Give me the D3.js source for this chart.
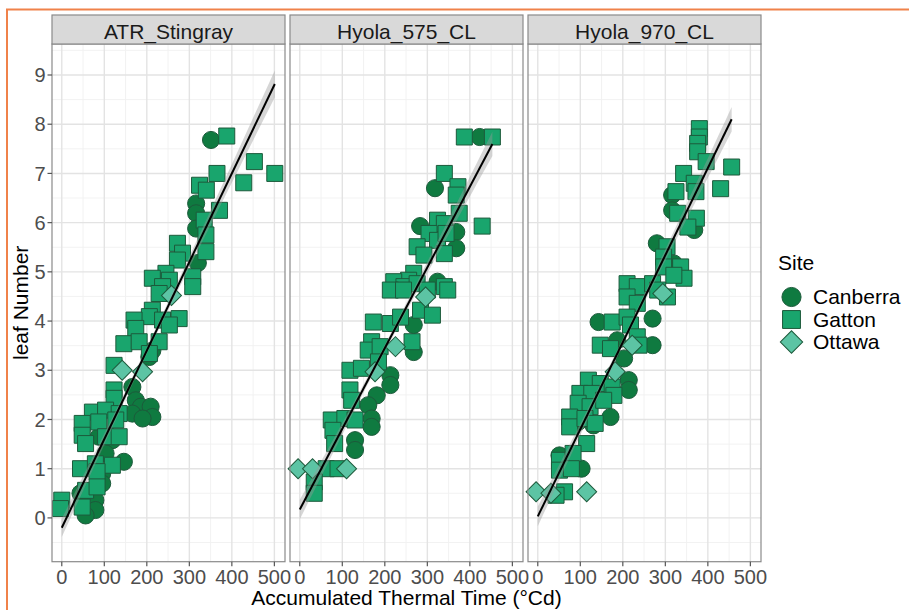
<!DOCTYPE html>
<html>
<head>
<meta charset="utf-8">
<script src="https://cdn.jsdelivr.net/npm/d3@7"></script>
<style>
  body { margin: 0; background: #fff; }
  text { font-family: "Liberation Sans", Arial, sans-serif; }
</style>
</head>
<body>
<div id="chart"></div>
<script>
const cultivars = ["ATR_Stingray", "Hyola_575_CL", "Hyola_970_CL"];
const sites = ["Canberra", "Gatton", "Ottawa"];
const xTicks = [0, 100, 200, 300, 400, 500];
const yTicks = [0, 1, 2, 3, 4, 5, 6, 7, 8, 9];

// [thermal time, leaf number]
const stingrayCanberra = [[351,7.68],[316,6.39],[316,6.19],[316,5.88],[320,5.18],[213,3.4],[206,3.27],[166,2.66],[174,2.39],[186,2.26],[209,2.26],[213,2.05],[166,2.12],[190,2.02],[87,1.65],[119,1.58],[103,1.31],[146,1.14],[95,0.9],[95,0.7],[44,0.5],[48,0.29],[79,0.36],[79,0.16],[56,0.05]];
const stingrayGatton = [[388,7.76],[453,7.24],[501,7.0],[428,6.81],[365,7.0],[324,6.76],[340,6.66],[371,6.25],[335,6.05],[339,5.75],[339,5.41],[272,5.58],[284,5.38],[272,5.24],[308,4.9],[308,4.7],[245,4.97],[213,4.87],[253,4.83],[237,4.7],[229,4.56],[213,4.22],[206,4.09],[237,4.02],[276,4.05],[253,3.92],[170,4.02],[174,3.85],[146,3.54],[182,3.58],[229,3.58],[206,3.34],[123,3.1],[123,2.6],[123,2.43],[72,2.15],[103,2.19],[135,2.12],[48,1.92],[87,1.95],[127,1.99],[48,1.68],[56,1.51],[103,1.65],[135,1.65],[44,1.0],[79,1.1],[119,1.07],[83,0.94],[56,0.56],[83,0.63],[0,0.36],[-3,0.19],[48,0.22]];
const stingrayOttawa = [[142,3.0],[190,2.97],[258,4.52]];

const h575Canberra = [[423,7.74],[318,6.7],[283,5.93],[368,5.81],[368,5.48],[324,4.8],[268,3.92],[268,3.37],[213,2.9],[213,2.7],[181,2.49],[161,2.29],[169,2.02],[169,1.85],[130,1.58],[130,1.38]];
const h575Gatton = [[387,7.74],[453,7.74],[340,7.0],[372,6.73],[368,6.56],[375,6.19],[429,5.93],[324,6.05],[340,5.98],[304,5.78],[324,5.64],[344,5.78],[276,5.51],[292,5.34],[340,5.37],[268,4.97],[256,4.83],[221,4.8],[245,4.7],[276,4.76],[340,4.7],[213,4.63],[244,4.63],[300,4.63],[348,4.63],[173,3.98],[213,3.95],[237,4.08],[284,4.22],[312,4.12],[169,3.58],[161,3.41],[189,3.48],[264,3.58],[118,3.0],[145,3.04],[185,3.17],[118,2.6],[122,2.39],[74,1.99],[106,2.02],[130,1.99],[78,1.78],[82,1.51],[62,1.0],[90,1.0],[34,0.73],[34,0.5]];
const h575Ottawa = [[-4,1.0],[30,1.0],[110,1.0],[177,2.97],[225,3.48],[296,4.49]];

const h970Canberra = [[316,6.56],[316,6.25],[368,5.85],[280,5.58],[320,5.17],[143,3.98],[270,4.05],[187,3.61],[203,3.24],[270,3.51],[214,2.8],[214,2.6],[171,2.05],[131,1.88],[95,1.95],[51,1.27],[103,1.0]];
const h970Gatton = [[380,7.91],[380,7.74],[376,7.61],[376,7.44],[396,7.24],[456,7.13],[343,7.0],[368,6.8],[372,6.63],[430,6.69],[325,6.63],[329,6.19],[373,6.09],[353,5.91],[304,5.51],[296,5.3],[296,5.1],[336,5.1],[344,4.87],[320,4.93],[210,4.76],[234,4.7],[270,4.76],[282,4.63],[210,4.49],[234,4.36],[305,4.49],[175,3.98],[210,4.08],[218,3.92],[234,3.68],[147,3.51],[171,3.44],[238,3.51],[119,2.8],[147,2.73],[175,2.66],[99,2.53],[127,2.53],[179,2.49],[95,2.33],[123,2.26],[155,2.39],[75,2.05],[75,1.85],[111,2.02],[115,1.51],[135,1.92],[51,1.17],[51,0.97],[83,1.31],[79,1.0],[63,0.53],[43,0.46]];
const h970Ottawa = [[-4,0.53],[31,0.5],[115,0.53],[182,2.97],[222,3.51],[294,4.56]];

const panelPoints = [
  [stingrayCanberra, stingrayGatton, stingrayOttawa],
  [h575Canberra, h575Gatton, h575Ottawa],
  [h970Canberra, h970Gatton, h970Ottawa]
];

// linear fit, per cultivar
const fitIntercept = [-0.2, 0.17, 0.03];
const fitSlope = [0.018, 0.0164, 0.0177];
const fitFrom = [0, 0, 0];
const fitTo = [501, 453, 456];
const fitSe = [0.07, 0.07, 0.07];
const fitMeanX = [200, 200, 200];
const fitSpread = [80, 75, 75];

const siteFill = ["#0f7a40", "#19a56d", "#5cc4a4"];
const siteShape = [d3.symbolCircle, d3.symbolSquare, d3.symbolSquare];
const siteSize = [230, 256, 200];
const siteRotate = [0, 0, 45];

const svg = d3.select("#chart").append("svg")
  .attr("width", 909).attr("height", 610);

// frame round the figure
svg.append("path")
  .attr("d", "M7,610 L7,9.5 L909,9.5")
  .attr("fill", "none").attr("stroke", "#f0824a").attr("stroke-width", 2);

const panelW = 233, panelGap = 5, left0 = 52;
const plotTop = 44, plotBottom = 561.7, stripTop = 15;

const y = d3.scaleLinear().domain([-0.89, 9.63]).range([plotBottom, plotTop]);

cultivars.forEach((name, i) => {
  const x0 = left0 + i * (panelW + panelGap);
  const x = d3.scaleLinear().domain([-23, 525]).range([x0, x0 + panelW]);
  const g = svg.append("g");

  g.append("rect").attr("x", x0).attr("y", plotTop)
    .attr("width", panelW).attr("height", plotBottom - plotTop).attr("fill", "#fff");

  // minor grid
  const xMinor = d3.range(50, 500, 100);
  const yMinor = d3.range(-0.5, 10, 1);
  g.selectAll(".xmin").data(xMinor).enter().append("line")
    .attr("x1", d => x(d)).attr("x2", d => x(d)).attr("y1", plotTop).attr("y2", plotBottom)
    .attr("stroke", "#f1f1f1").attr("stroke-width", 0.9);
  g.selectAll(".ymin").data(yMinor).enter().append("line")
    .attr("x1", x0).attr("x2", x0 + panelW).attr("y1", d => y(d)).attr("y2", d => y(d))
    .attr("stroke", "#f1f1f1").attr("stroke-width", 0.9);
  // major grid
  g.selectAll(".xmaj").data(xTicks).enter().append("line")
    .attr("x1", d => x(d)).attr("x2", d => x(d)).attr("y1", plotTop).attr("y2", plotBottom)
    .attr("stroke", "#e3e3e3").attr("stroke-width", 1.4);
  g.selectAll(".ymaj").data(yTicks).enter().append("line")
    .attr("x1", x0).attr("x2", x0 + panelW).attr("y1", d => y(d)).attr("y2", d => y(d))
    .attr("stroke", "#e3e3e3").attr("stroke-width", 1.4);

  // points
  sites.forEach((s, k) => {
    const sym = d3.symbol().type(siteShape[k]).size(siteSize[k]);
    g.selectAll(".p" + k).data(panelPoints[i][k]).enter().append("path")
      .attr("d", sym)
      .attr("transform", d => `translate(${x(d[0])},${y(d[1])}) rotate(${siteRotate[k]})`)
      .attr("fill", siteFill[k])
      .attr("stroke", "#1d5a3b").attr("stroke-width", 1);
  });

  // smooth with confidence band
  const xs = d3.range(fitFrom[i], fitTo[i] + 0.1, (fitTo[i] - fitFrom[i]) / 60);
  const fit = v => fitIntercept[i] + fitSlope[i] * v;
  const se = v => fitSe[i] * Math.sqrt(1 + Math.pow((v - fitMeanX[i]) / fitSpread[i], 2));
  g.append("path")
    .datum(xs)
    .attr("d", d3.area().x(v => x(v)).y0(v => y(fit(v) - se(v))).y1(v => y(fit(v) + se(v))))
    .attr("fill", "#999").attr("fill-opacity", 0.4);
  g.append("path")
    .datum([fitFrom[i], fitTo[i]])
    .attr("d", d3.line().x(v => x(v)).y(v => y(fit(v))))
    .attr("fill", "none").attr("stroke", "#000").attr("stroke-width", 2);

  // border
  g.append("rect").attr("x", x0).attr("y", plotTop)
    .attr("width", panelW).attr("height", plotBottom - plotTop)
    .attr("fill", "none").attr("stroke", "#8a8a8a").attr("stroke-width", 1.2);

  // strip
  g.append("rect").attr("x", x0).attr("y", stripTop)
    .attr("width", panelW).attr("height", plotTop - stripTop)
    .attr("fill", "#d9d9d9").attr("stroke", "#8a8a8a").attr("stroke-width", 1.2);
  g.append("text").attr("x", x0 + panelW / 2).attr("y", 39.3)
    .attr("text-anchor", "middle").attr("font-size", "21px").attr("fill", "#1a1a1a")
    .text(name);

  // x axis
  g.selectAll(".xt").data(xTicks).enter().append("line")
    .attr("x1", d => x(d)).attr("x2", d => x(d)).attr("y1", plotBottom).attr("y2", plotBottom + 4.5)
    .attr("stroke", "#555").attr("stroke-width", 1.2);
  g.selectAll(".xl").data(xTicks).enter().append("text")
    .attr("x", d => x(d)).attr("y", 584)
    .attr("text-anchor", "middle").attr("font-size", "20px").attr("fill", "#4d4d4d")
    .text(d => d);
});

// y axis
svg.selectAll(".yt").data(yTicks).enter().append("line")
  .attr("x1", left0 - 4.5).attr("x2", left0).attr("y1", d => y(d)).attr("y2", d => y(d))
  .attr("stroke", "#555").attr("stroke-width", 1.2);
svg.selectAll(".yl").data(yTicks).enter().append("text")
  .attr("x", 45.5).attr("y", d => y(d) + 7.1)
  .attr("text-anchor", "end").attr("font-size", "20px").attr("fill", "#4d4d4d")
  .text(d => d);

svg.append("text")
  .attr("x", left0 + (3 * panelW + 2 * panelGap) / 2).attr("y", 605)
  .attr("text-anchor", "middle").attr("font-size", "21px").attr("fill", "#000")
  .text("Accumulated Thermal Time (°Cd)");

svg.append("text")
  .attr("transform", `translate(28,${(plotTop + plotBottom) / 2}) rotate(-90)`)
  .attr("text-anchor", "middle").attr("font-size", "21px").attr("fill", "#000")
  .text("leaf Number");

// legend
const lg = svg.append("g");
lg.append("text").attr("x", 778).attr("y", 270)
  .attr("font-size", "21px").attr("fill", "#000").text("Site");
sites.forEach((s, k) => {
  const cy = 297 + k * 22.5;
  const sym = d3.symbol().type(siteShape[k]).size(siteSize[k] * 1.25);
  lg.append("path").attr("d", sym)
    .attr("transform", `translate(791.5,${cy}) rotate(${siteRotate[k]})`)
    .attr("fill", siteFill[k]).attr("stroke", "#1d5a3b").attr("stroke-width", 1);
  lg.append("text").attr("x", 813).attr("y", cy + 7.3)
    .attr("font-size", "21px").attr("fill", "#000").text(s);
});
</script>
</body>
</html>
